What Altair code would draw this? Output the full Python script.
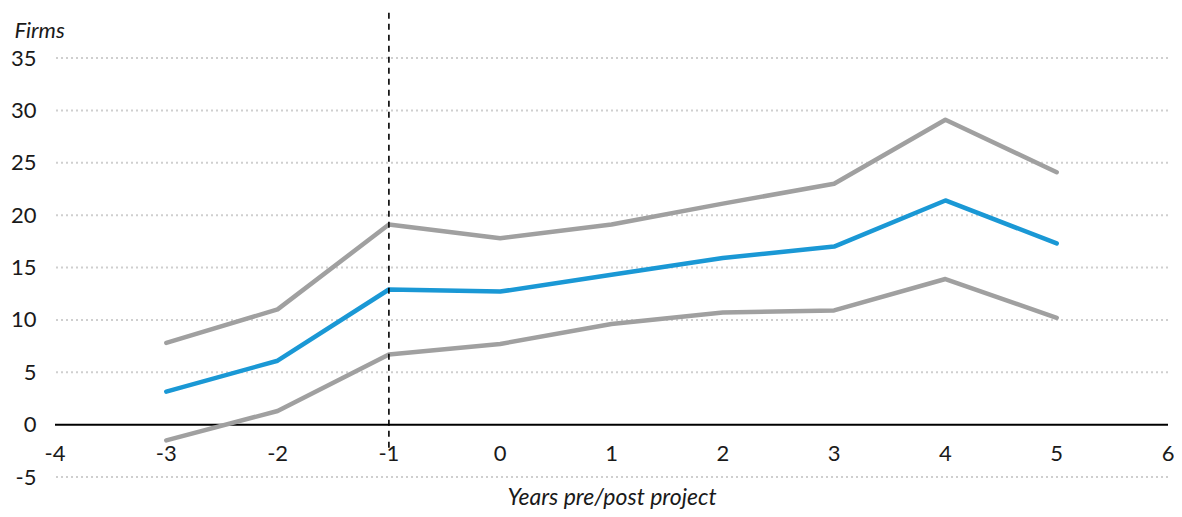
import altair as alt
import pandas as pd

years = [-3, -2, -1, 0, 1, 2, 3, 4, 5]
upper = [7.8, 11.0, 19.1, 17.8, 19.1, 21.1, 23.0, 29.1, 24.1]
mid = [3.15, 6.1, 12.9, 12.7, 14.3, 15.9, 17.0, 21.4, 17.3]
lower = [-1.5, 1.3, 6.7, 7.7, 9.6, 10.7, 10.9, 13.9, 10.2]

x_ticks = [-4, -3, -2, -1, 0, 1, 2, 3, 4, 5, 6]
y_ticks = [-5, 0, 5, 10, 15, 20, 25, 30, 35]
event_x = [-1]
event_span = [-2.2, 39.8]

FONT = "Lato"
TXT = "#1a1a1a"

rows = []
for name, vals in [("upper", upper), ("mid", mid), ("lower", lower)]:
    for x, v in zip(years, vals):
        rows.append({"year": x, "value": v, "series": name})
df = pd.DataFrame(rows)

xs = alt.Scale(domain=[-4, 6], nice=False, zero=False)
ys = alt.Scale(domain=[-5, 35], nice=False, zero=False)

base_x = alt.X("year:Q", scale=xs,
               axis=alt.Axis(labels=False, ticks=False, domain=False, grid=False,
                             title="Years pre/post project", titleFont=FONT,
                             titleFontSize=23, titleFontStyle="italic",
                             titleFontWeight="normal", titleColor=TXT,
                             titlePadding=9))

grid = alt.Chart(pd.DataFrame({"v": [t for t in y_ticks if t != 0]})).mark_rule(
    color="#cfcfcf", strokeDash=[2, 3], strokeWidth=2
).encode(
    y=alt.Y("v:Q", scale=ys,
            axis=alt.Axis(values=y_ticks, labelFont=FONT, labelFontSize=22,
                          labelColor=TXT, labelPadding=19, ticks=False,
                          labelExpr="'' + datum.value",
                          domain=False, grid=False, title="Firms",
                          titleFont=FONT, titleFontSize=22, titleFontStyle="italic",
                          titleFontWeight="normal", titleColor=TXT,
                          titleAngle=0, titleAlign="left", titleBaseline="middle",
                          titleX=-41, titleY=-28))
)

zero = alt.Chart(pd.DataFrame({"v": [0]})).mark_rule(color="#000000", strokeWidth=2).encode(
    y=alt.Y("v:Q", scale=ys)
)

vline = alt.Chart(pd.DataFrame({"x": event_x, "y1": [event_span[0]], "y2": [event_span[1]]})).mark_rule(
    color="#000000", strokeDash=[6, 5], strokeWidth=1.6, clip=False
).encode(
    x=alt.X("x:Q", scale=xs),
    y=alt.Y("y1:Q", scale=ys),
    y2="y2:Q",
)

lines = alt.Chart(df).mark_line(strokeWidth=4.5, strokeCap="round", strokeJoin="round").encode(
    x=base_x,
    y=alt.Y("value:Q", scale=ys),
    detail="series:N",
    color=alt.Color("series:N",
                    scale=alt.Scale(domain=["upper", "mid", "lower"],
                                    range=["#a0a0a0", "#1a98d5", "#a0a0a0"]),
                    legend=None),
)

xlab_df = pd.DataFrame({"x": x_ticks, "y": [0] * len(x_ticks),
                        "label": [str(t) for t in x_ticks]})
xlabels = alt.Chart(xlab_df).mark_text(
    font=FONT, fontSize=22, color=TXT, baseline="middle", align="center", dy=29
).encode(
    x=alt.X("x:Q", scale=xs),
    y=alt.Y("y:Q", scale=ys),
    text="label:N",
)

chart = alt.layer(grid, zero, lines, vline, xlabels).properties(
    width=1113, height=419,
    autosize=alt.AutoSizeParams(type="none"),
    padding={"left": 47, "top": 50, "right": 6, "bottom": 32},
).configure(font=FONT, view={"stroke": "transparent", "strokeWidth": 0})

chart.save("out.html", embed_options={"renderer": "svg", "actions": False})
